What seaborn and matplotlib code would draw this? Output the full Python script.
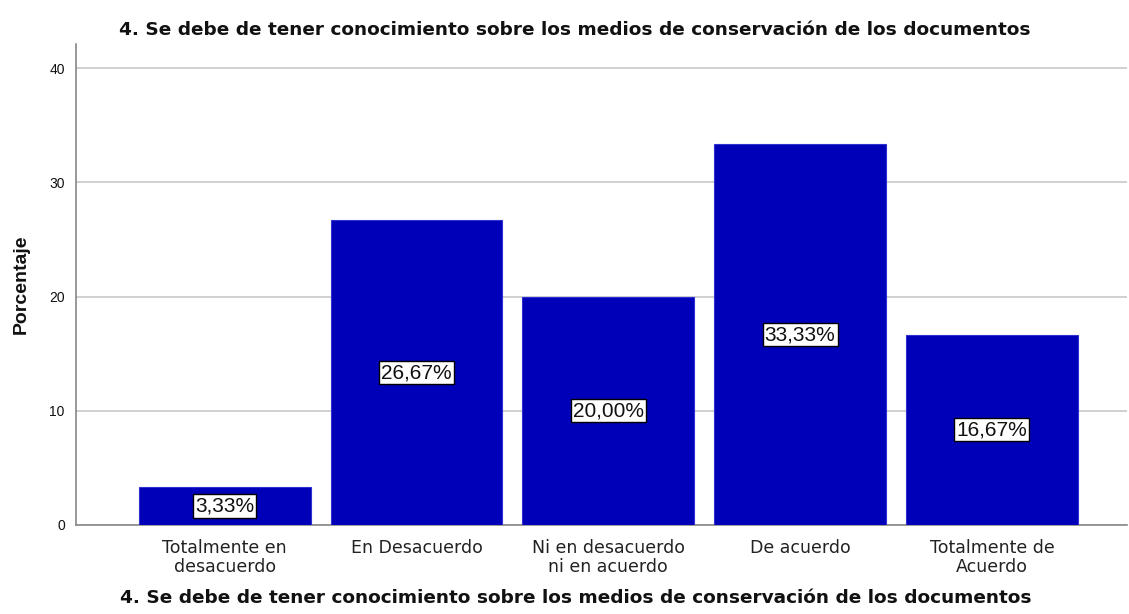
import matplotlib
matplotlib.use("Agg")
import matplotlib.pyplot as plt
import seaborn as sns
import pandas as pd

categories = ["Totalmente en\ndesacuerdo", "En Desacuerdo", "Ni en desacuerdo\nni en acuerdo",
              "De acuerdo", "Totalmente de\nAcuerdo"]
percentages = [3.33, 26.67, 20.00, 33.33, 16.67]
y_ticks = [0, 10, 20, 30, 40]
title = "4. Se debe de tener conocimiento sobre los medios de conservación de los documentos"

sns.set_theme(style="white")
plt.rcParams["font.family"] = ["Liberation Sans", "DejaVu Sans"]

df = pd.DataFrame({"cat": categories, "pct": percentages})

fig = plt.figure(figsize=(11.29, 6.14), dpi=100)
ax = fig.add_axes([0.0673, 0.145, 0.931, 0.783])

sns.barplot(data=df, x="cat", y="pct", color="#0000B8", saturation=1, width=0.896,
            edgecolor="#3030D0", linewidth=0.8, ax=ax, zorder=3)

# percentage labels centred in each bar
for i, v in enumerate(percentages):
    ax.text(i, v / 2, f"{v:.2f}%".replace(".", ","), ha="center", va="center",
            fontsize=15, color="#111111", zorder=5,
            bbox=dict(boxstyle="square,pad=0.1", facecolor="white", edgecolor="black", linewidth=1))

ax.set_ylim(0, 42.1)
ax.set_xlim(-0.776, 4.705)
ax.set_yticks(y_ticks)
ax.set_yticklabels([str(t) for t in y_ticks], fontsize=10)
ax.yaxis.grid(True, color="#C8C8C8", linewidth=1.2, zorder=0)
ax.set_axisbelow(True)
ax.tick_params(axis="x", length=0, pad=10, colors="#222222")
for lbl in ax.get_xticklabels():
    lbl.set_fontfamily("DejaVu Sans")
    lbl.set_fontsize(12.5)
    lbl.set_linespacing(1.05)
ax.tick_params(axis="y", length=0, pad=8, colors="#111111")

for s in ["top", "right"]:
    ax.spines[s].set_visible(False)
for s in ["left", "bottom"]:
    ax.spines[s].set_color("#888888")
    ax.spines[s].set_linewidth(1.2)

ax.set_ylabel("Porcentaje", fontsize=14, fontweight="bold", labelpad=14, color="#111111")
ax.set_xlabel("")

# chart title and variable caption, centred on the figure
fig.text(0.509, 0.951, title, ha="center", va="center", fontsize=13.3,
         fontweight="bold", family="DejaVu Sans", color="#111111")
fig.text(0.510, 0.026, title, ha="center", va="center", fontsize=13.3,
         fontweight="bold", family="DejaVu Sans", color="#111111")

fig.savefig("out.png", dpi=100)
